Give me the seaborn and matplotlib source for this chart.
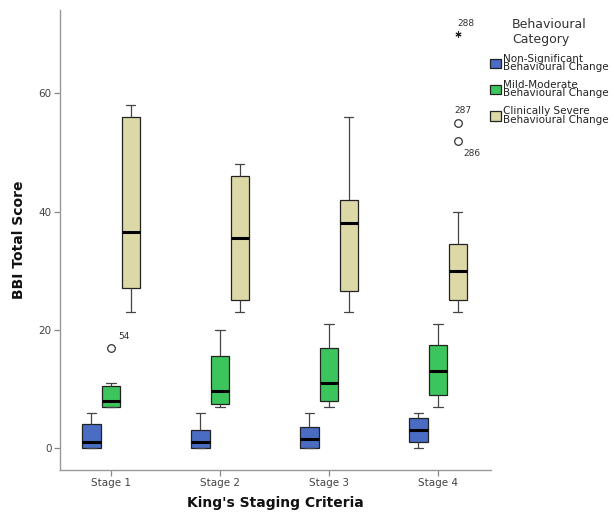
import numpy as np
import pandas as pd
import matplotlib
matplotlib.use("Agg")
import matplotlib.pyplot as plt
import seaborn as sns

stages = ["Stage 1", "Stage 2", "Stage 3", "Stage 4"]
categories = ["Non-Significant\nBehavioural Change",
              "Mild-Moderate\nBehavioural Change",
              "Clinically Severe\nBehavioural Change"]
colors = ["#4a6cc3", "#3cc55c", "#dcd9a6"]

# box summaries: whisker low, q1, median, q3, whisker high
nonsig_low = [0, 0, 0, 0]
nonsig_q1 = [0, 0, 0, 1]
nonsig_med = [1, 1, 1.5, 3]
nonsig_q3 = [4, 3, 3.5, 5]
nonsig_high = [6, 6, 6, 6]

mild_low = [7, 7, 7, 7]
mild_q1 = [7, 7.4, 8, 9]
mild_med = [8, 9.6, 11, 13]
mild_q3 = [10.5, 15.5, 17, 17.5]
mild_high = [11, 20, 21, 21]

severe_low = [23, 23, 23, 23]
severe_q1 = [27, 25, 26.5, 25]
severe_med = [36.5, 35.5, 38, 30]
severe_q3 = [56, 46, 42, 34.5]
severe_high = [58, 48, 56, 40]

# outliers (case numbers as labelled)
out_stage = ["Stage 1", "Stage 4", "Stage 4", "Stage 4"]
out_cat = [1, 2, 2, 2]
out_value = [17, 55, 52, 70]
out_case = ["54", "287", "286", "288"]
out_extreme = [False, False, False, True]

groups = [
    [nonsig_low, nonsig_q1, nonsig_med, nonsig_q3, nonsig_high],
    [mild_low, mild_q1, mild_med, mild_q3, mild_high],
    [severe_low, severe_q1, severe_med, severe_q3, severe_high],
]
rows = []
for cat, parts in zip(categories, groups):
    for i, stage in enumerate(stages):
        for arr in parts:
            rows.append((stage, cat, arr[i]))
df = pd.DataFrame(rows, columns=["stage", "category", "score"])

sns.set_style("ticks")
fig = plt.figure(figsize=(6.14, 5.16), dpi=100)
ax = fig.add_axes([59.5 / 614, 46 / 516, 431.5 / 614, 460 / 516])

box_width = 0.54
sns.boxplot(data=df, x="stage", y="score", hue="category", order=stages,
            hue_order=categories, palette=colors, saturation=1,
            width=box_width, gap=0.07, whis=(0, 100), showfliers=False,
            linecolor="#222222", linewidth=0.9,
            medianprops=dict(color="black", linewidth=2.2),
            whiskerprops=dict(color="#444444"), capprops=dict(color="#444444"),
            ax=ax)

slot = box_width / len(categories)
for st, c, v, case, ext in zip(out_stage, out_cat, out_value, out_case, out_extreme):
    x = stages.index(st) + (c - 1) * slot
    if ext:
        ax.scatter([x], [v], marker=(6, 2, 0), s=14, color="#222222", linewidths=0.8, zorder=5)
    else:
        ax.scatter([x], [v], facecolors="white", edgecolors="#333333", s=30,
                   linewidths=0.9, zorder=5)

label_offsets = {"54": (9, 8), "287": (4, 9), "286": (10, -9), "288": (6, 8)}
for st, c, v, case in zip(out_stage, out_cat, out_value, out_case):
    x = stages.index(st) + (c - 1) * slot
    ax.annotate(case, (x, v), xytext=label_offsets[case], textcoords="offset points",
                ha="center", va="center", fontsize=6.5, color="#333333")

ax.set_xlim(-0.4725, 3.486)
ax.set_ylim(-3.72, 74.1)
ax.set_yticks([0, 20, 40, 60])
sns.despine(ax=ax)
for side in ["left", "bottom"]:
    ax.spines[side].set_color("#999999")
    ax.spines[side].set_linewidth(1.0)
ax.tick_params(length=4.3, width=0.9, color="#888888", labelsize=7.5,
               labelcolor="#444444", pad=1.5)
ax.set_xlabel("King's Staging Criteria", fontsize=10, fontweight="bold",
              color="#111111", labelpad=6)
ax.set_ylabel("BBI Total Score", fontsize=10, fontweight="bold",
              color="#111111", labelpad=9)

sns.move_legend(ax, "upper left", bbox_to_anchor=(0.998, 0.982),
                title="Behavioural\nCategory", frameon=False, fontsize=7.5,
                title_fontsize=9, handlelength=1.07, handleheight=1.07,
                handletextpad=0.15, labelspacing=0.7, borderpad=0,
                borderaxespad=0)
leg = ax.get_legend()
for t in leg.get_texts():
    t.set_linespacing(0.85)
    t.set_color("#222222")
leg.get_title().set_color("#333333")

fig.savefig("out.png", dpi=100)
